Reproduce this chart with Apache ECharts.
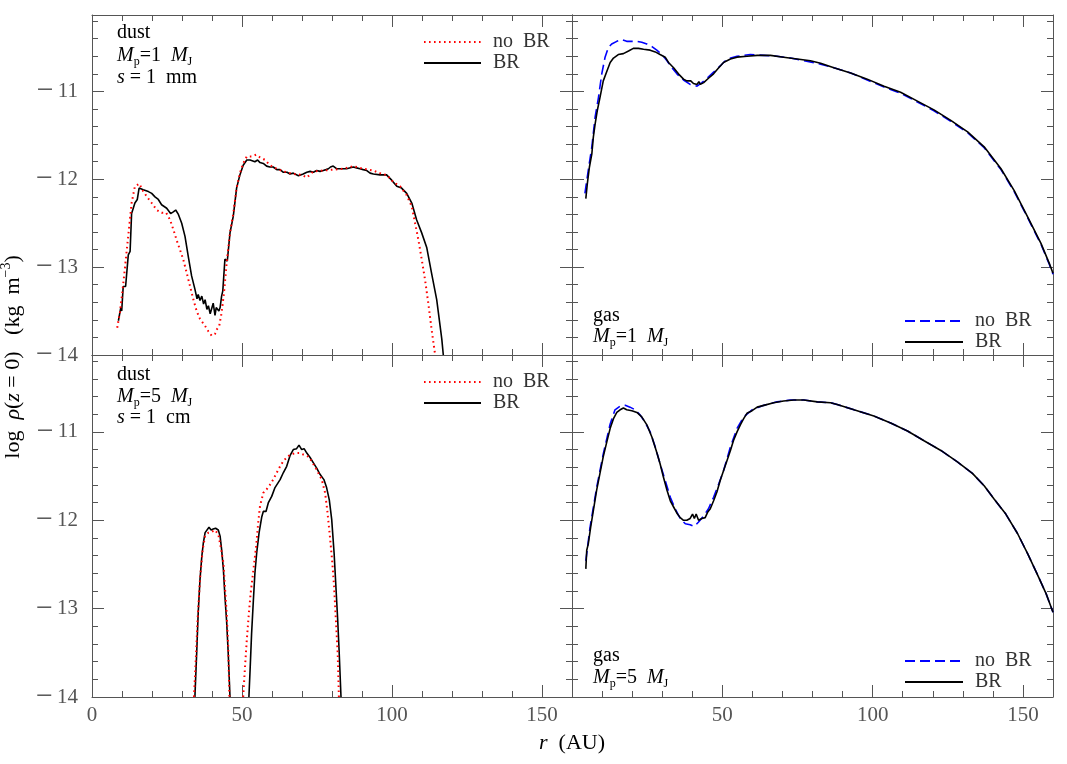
<!DOCTYPE html>
<html>
<head>
<meta charset="utf-8">
<script src="https://cdn.jsdelivr.net/npm/echarts/dist/echarts.min.js"></script>
<style>
  html, body { margin: 0; padding: 0; background: #fff; }
  #chart { width: 1067px; height: 764px; }
</style>
</head>
<body>
<div id="chart"></div>
<script>
// ── DATA (r in AU, log rho) ───────────────────────────────────────────────────
// dust, Mp = 1 MJ, s = 1 mm
const dust1NoBR = [
  [8.4,-13.69],[9.3,-13.52],[10.1,-13.29],[10.8,-13.07],[11.6,-12.80],[12.4,-12.54],[13.2,-12.27],
  [14.3,-12.08],[15.8,-12.05],[17.1,-12.14],[18.8,-12.22],[19.9,-12.27],[21.6,-12.35],[23.2,-12.38],
  [24.7,-12.38],[26.0,-12.46],[27.1,-12.57],[28.2,-12.69],[29.3,-12.80],[30.4,-12.91],[31.6,-13.07],
  [32.7,-13.22],[33.8,-13.37],[34.9,-13.50],[36.0,-13.59],[37.7,-13.67],[38.8,-13.73],[39.9,-13.78],
  [41.0,-13.76],[41.6,-13.71],[42.4,-13.67],[43.2,-13.52],[44.0,-13.29],[44.9,-12.95],[46.0,-12.61],
  [47.1,-12.39],[48.2,-12.10],[49.3,-11.93],[50.4,-11.82],[51.6,-11.74],[53.2,-11.74],[54.7,-11.72],
  [56.0,-11.75],[57.7,-11.78],[59.3,-11.84],[61.6,-11.88],[63.8,-11.91],[67.1,-11.94],[69.9,-11.95],
  [71.6,-11.98],[73.8,-11.91],[77.1,-11.90],[80.4,-11.89],[83.8,-11.88],[87.1,-11.85],[90.4,-11.88],
  [93.8,-11.90],[96.6,-11.94],[98.2,-11.95],[100.4,-12.03],[102.7,-12.08],[104.9,-12.18],[106.6,-12.31],
  [107.7,-12.50],[108.8,-12.69],[109.9,-12.91],[111.0,-13.14],[112.1,-13.41],[113.2,-13.71],[114.1,-13.93],
  [114.4,-14.0]
];
const dust1BR = [
  [8.8,-13.61],[9.6,-13.46],[9.9,-13.50],[10.4,-13.22],[11.2,-13.22],[12.1,-12.86],[12.7,-12.82],
  [13.2,-12.39],[13.8,-12.37],[14.3,-12.27],[15.1,-12.23],[15.7,-12.10],[17.1,-12.12],[18.8,-12.14],
  [19.9,-12.16],[21.0,-12.20],[22.1,-12.23],[23.2,-12.29],[24.9,-12.33],[26.2,-12.39],[27.1,-12.37],
  [27.9,-12.35],[28.8,-12.40],[29.9,-12.50],[31.0,-12.65],[32.1,-12.88],[33.2,-13.10],[34.3,-13.25],
  [35.0,-13.36],[35.4,-13.31],[36.0,-13.38],[36.6,-13.33],[37.2,-13.42],[37.7,-13.37],[38.3,-13.48],
  [38.8,-13.44],[39.4,-13.53],[39.9,-13.47],[40.4,-13.41],[41.0,-13.55],[41.4,-13.46],[41.8,-13.44],
  [42.3,-13.50],[42.7,-13.46],[43.2,-13.33],[43.6,-13.27],[44.3,-12.91],[45.1,-12.93],[46.0,-12.61],
  [47.1,-12.42],[48.2,-12.10],[49.3,-11.95],[50.4,-11.84],[51.6,-11.78],[52.7,-11.78],[53.2,-11.76],
  [54.3,-11.80],[55.2,-11.78],[56.0,-11.81],[57.1,-11.82],[58.2,-11.85],[59.3,-11.86],[60.4,-11.86],
  [61.6,-11.89],[62.7,-11.89],[63.8,-11.92],[65.0,-11.92],[66.0,-11.94],[67.1,-11.93],[68.8,-11.96],
  [70.4,-11.94],[71.6,-11.92],[72.7,-11.91],[73.8,-11.92],[74.9,-11.90],[76.0,-11.91],[77.1,-11.90],
  [78.0,-11.89],[78.8,-11.88],[79.5,-11.86],[80.4,-11.85],[81.5,-11.88],[82.7,-11.88],[84.9,-11.88],
  [87.1,-11.86],[88.2,-11.87],[89.3,-11.88],[90.4,-11.89],[91.6,-11.90],[92.7,-11.93],[93.8,-11.94],
  [96.0,-11.95],[98.2,-11.95],[99.9,-12.01],[101.6,-12.08],[103.2,-12.10],[104.9,-12.16],[106.6,-12.27],
  [108.2,-12.46],[109.9,-12.61],[111.6,-12.78],[113.2,-13.07],[114.9,-13.37],[116.6,-13.82],[117.1,-14.0]
];

// dust, Mp = 5 MJ, s = 1 cm (two rings, gap in between)
const dust5NoBR = [
  [34.0,-14.0],[34.7,-13.50],[35.2,-13.12],[36.0,-12.67],[36.9,-12.33],[37.7,-12.18],[38.8,-12.14],
  [39.9,-12.13],[41.0,-12.11],[42.1,-12.16],[42.9,-12.30],[43.8,-12.48],[44.3,-12.75],[44.9,-13.05],
  [45.4,-13.43],[45.8,-14.0],[48.0,null],
  [50.4,-14.0],[51.0,-13.66],[51.6,-13.35],[52.3,-13.05],[52.9,-12.82],[53.8,-12.56],[54.7,-12.30],
  [55.4,-12.03],[56.0,-11.84],[57.1,-11.69],[58.2,-11.65],[59.3,-11.60],[60.4,-11.54],[61.6,-11.46],
  [62.7,-11.39],[63.8,-11.33],[64.9,-11.29],[66.0,-11.26],[67.7,-11.24],[69.3,-11.24],[70.7,-11.26],
  [72.1,-11.28],[73.2,-11.33],[74.9,-11.43],[76.6,-11.54],[77.7,-11.69],[78.4,-11.88],[79.3,-12.18],
  [80.1,-12.48],[80.7,-12.75],[81.3,-13.13],[81.9,-13.50],[82.3,-14.0]
];
const dust5BR = [
  [34.3,-14.0],[34.9,-13.50],[35.4,-13.05],[36.0,-12.67],[36.6,-12.41],[37.1,-12.26],[37.7,-12.14],
  [38.2,-12.14],[39.0,-12.08],[39.7,-12.11],[40.4,-12.10],[41.2,-12.09],[42.1,-12.11],[42.7,-12.18],
  [43.2,-12.33],[43.8,-12.56],[44.3,-12.86],[44.9,-13.16],[45.4,-13.50],[46.0,-14.0],[48.0,null],
  [52.3,-14.0],[52.7,-13.69],[53.2,-13.28],[53.8,-12.90],[54.3,-12.60],[54.9,-12.37],[55.7,-12.14],
  [56.6,-11.96],[57.1,-11.90],[58.0,-11.90],[58.8,-11.80],[59.9,-11.73],[61.0,-11.63],[61.6,-11.61],
  [62.7,-11.54],[63.8,-11.46],[64.9,-11.39],[66.0,-11.27],[67.1,-11.20],[68.2,-11.19],[69.0,-11.15],
  [69.9,-11.20],[70.7,-11.19],[71.6,-11.24],[72.7,-11.29],[73.8,-11.35],[74.9,-11.41],[76.0,-11.48],
  [77.3,-11.54],[78.2,-11.63],[79.1,-11.77],[79.9,-11.99],[80.7,-12.37],[81.3,-12.75],[81.9,-13.13],
  [82.4,-13.50],[83.0,-14.0]
];

// gas, Mp = 1 MJ
const gas1NoBR = [
  [4.3,-12.16],[5.4,-11.90],[6.6,-11.63],[7.7,-11.29],[8.8,-11.07],[9.9,-10.80],[11.0,-10.61],
  [12.1,-10.50],[13.2,-10.46],[14.9,-10.43],[16.6,-10.41],[18.2,-10.43],[19.9,-10.43],[21.6,-10.43],
  [23.2,-10.44],[24.9,-10.46],[26.6,-10.49],[28.2,-10.53],[29.9,-10.58],[31.6,-10.65],[33.2,-10.73],
  [34.9,-10.80],[37.1,-10.87],[39.3,-10.92],[41.6,-10.94],[43.2,-10.90],[44.9,-10.85],[47.1,-10.78],
  [49.3,-10.71],[51.6,-10.63],[54.9,-10.60],[59.3,-10.58],[63.8,-10.59],[68.2,-10.60],[72.7,-10.62],
  [77.1,-10.65],[81.6,-10.68],[87.1,-10.73],[92.7,-10.79],[98.2,-10.87],[103.8,-10.95],[109.3,-11.02],
  [114.9,-11.12],[120.4,-11.22],[126.0,-11.34],[131.6,-11.47],[137.1,-11.64],[142.7,-11.89],
  [147.1,-12.14],[151.6,-12.44],[156.0,-12.74],[158.8,-12.97],[160.0,-13.08]
];
const gas1BR = [
  [4.6,-12.22],[5.1,-12.05],[5.8,-11.86],[6.6,-11.71],[7.1,-11.52],[7.7,-11.37],[8.4,-11.22],
  [9.3,-11.07],[10.4,-10.88],[11.6,-10.77],[12.7,-10.67],[13.8,-10.62],[15.4,-10.58],[17.1,-10.57],
  [18.8,-10.54],[20.4,-10.51],[22.1,-10.51],[23.8,-10.52],[26.0,-10.53],[27.7,-10.55],[29.3,-10.58],
  [31.0,-10.61],[32.1,-10.67],[33.8,-10.73],[35.4,-10.80],[37.1,-10.86],[38.2,-10.88],[38.8,-10.90],
  [39.5,-10.88],[40.4,-10.91],[41.0,-10.89],[41.6,-10.92],[42.2,-10.89],[42.7,-10.92],[43.8,-10.90],
  [45.4,-10.85],[47.1,-10.80],[48.8,-10.73],[50.4,-10.67],[52.7,-10.63],[54.9,-10.61],[58.2,-10.60],
  [61.6,-10.59],[66.0,-10.59],[70.4,-10.61],[74.9,-10.63],[79.3,-10.65],[82.7,-10.68],[87.1,-10.73],
  [92.7,-10.79],[98.2,-10.86],[103.8,-10.94],[109.3,-11.01],[114.9,-11.11],[120.4,-11.21],
  [126.0,-11.33],[131.6,-11.46],[137.1,-11.63],[142.7,-11.88],[147.1,-12.13],[151.6,-12.43],
  [156.0,-12.73],[158.8,-12.96],[160.0,-13.07]
];

// gas, Mp = 5 MJ
const gas5NoBR = [
  [4.6,-12.46],[6.0,-12.08],[8.2,-11.63],[10.4,-11.25],[12.7,-10.91],[14.3,-10.75],[16.0,-10.71],
  [17.7,-10.70],[19.3,-10.72],[21.0,-10.75],[22.7,-10.81],[24.3,-10.89],[26.0,-11.00],[27.7,-11.17],
  [29.3,-11.36],[31.0,-11.55],[32.7,-11.74],[34.3,-11.87],[36.0,-11.98],[37.7,-12.04],[39.3,-12.05],
  [40.7,-12.07],[42.1,-12.02],[43.8,-11.95],[45.4,-11.87],[47.1,-11.74],[48.8,-11.59],[50.4,-11.44],
  [52.7,-11.17],[54.9,-10.96],[57.1,-10.83],[59.9,-10.75],[63.8,-10.70],[68.2,-10.66],[72.7,-10.64],
  [77.1,-10.64],[81.6,-10.66],[86.0,-10.67],[88.2,-10.69],[93.8,-10.75],[100.4,-10.82],[106.0,-10.90],
  [111.6,-10.99],[117.1,-11.10],[122.7,-11.21],[128.2,-11.34],[133.2,-11.47],[137.1,-11.61],
  [140.4,-11.76],[144.3,-11.93],[148.2,-12.15],[151.6,-12.38],[154.9,-12.62],[157.7,-12.83],[160.0,-13.04]
];
const gas5BR = [
  [4.6,-12.55],[4.9,-12.34],[5.4,-12.27],[6.2,-12.08],[7.1,-11.89],[8.2,-11.66],[9.3,-11.47],
  [10.4,-11.28],[11.6,-11.11],[12.7,-10.96],[13.8,-10.85],[14.9,-10.78],[16.0,-10.75],[17.1,-10.73],
  [18.2,-10.75],[19.9,-10.76],[21.6,-10.78],[23.2,-10.83],[24.9,-10.92],[26.6,-11.06],[28.0,-11.21],
  [29.3,-11.36],[30.4,-11.51],[31.6,-11.66],[32.7,-11.78],[33.8,-11.85],[34.9,-11.92],[36.0,-11.97],
  [37.1,-12.00],[38.2,-12.00],[39.3,-11.98],[40.1,-11.93],[40.7,-11.98],[41.3,-11.93],[42.1,-12.00],
  [43.2,-11.98],[44.3,-11.97],[45.1,-11.91],[46.0,-11.87],[47.1,-11.78],[48.2,-11.68],[49.3,-11.55],
  [50.4,-11.44],[51.6,-11.32],[52.7,-11.21],[53.8,-11.09],[54.9,-11.00],[56.0,-10.92],[57.1,-10.85],
  [58.2,-10.79],[59.9,-10.76],[61.6,-10.72],[63.8,-10.70],[67.1,-10.67],[70.4,-10.65],[73.8,-10.64],
  [77.1,-10.64],[81.6,-10.66],[86.0,-10.67],[88.2,-10.69],[93.8,-10.75],[100.4,-10.82],[106.0,-10.90],
  [111.6,-10.99],[117.1,-11.10],[122.7,-11.21],[128.2,-11.34],[133.2,-11.47],[137.1,-11.61],
  [140.4,-11.76],[144.3,-11.93],[148.2,-12.15],[151.6,-12.38],[154.9,-12.62],[157.7,-12.83],[160.0,-13.04]
];

const R_MIN = 0, R_MAX = 160;
const LOG_MIN = -14, LOG_MAX = -10.13;

// ── LAYOUT / STYLE ────────────────────────────────────────────────────────────
const SERIF = '"Liberation Serif", "DejaVu Serif", serif';
const AXIS_COL = '#555';
const TXT_COL = '#333';

// 0 = dust 1MJ, 1 = gas 1MJ, 2 = dust 5MJ, 3 = gas 5MJ
const grids = [
  { left: 92,  top: 15,  width: 480, height: 340 },
  { left: 572, top: 15,  width: 481, height: 340 },
  { left: 92,  top: 355, width: 480, height: 342 },
  { left: 572, top: 355, width: 481, height: 342 },
];

// long TeX-like minus drawn with a larger glyph
const tickRich = {
  m: { fontFamily: SERIF, fontSize: 30, color: AXIS_COL, lineHeight: 26, verticalAlign: 'middle' },
  n: { fontFamily: SERIF, fontSize: 21, color: AXIS_COL, lineHeight: 26, verticalAlign: 'middle' },
};
const minus = v => (v < 0 ? '{m|\u2212}{n|\u2009' + Math.abs(v) + '}' : '{n|' + v + '}');

const baseAxis = {
  type: 'value',
  axisLine: { show: true, onZero: false, lineStyle: { color: AXIS_COL, width: 1 } },
  axisTick: { show: true, inside: true, length: 12, lineStyle: { color: AXIS_COL, width: 1 } },
  minorTick: { show: true, splitNumber: 5, length: 6, lineStyle: { color: AXIS_COL, width: 1 } },
  splitLine: { show: false },
};

const xAxes = [], yAxes = [];
grids.forEach(function (g, gi) {
  const bottomRow = gi >= 2, leftCol = gi % 2 === 0;
  ['bottom', 'top'].forEach(function (pos) {
    xAxes.push(Object.assign({}, baseAxis, {
      gridIndex: gi, position: pos, min: R_MIN, max: R_MAX, interval: 50,
      axisLabel: {
        show: pos === 'bottom' && bottomRow, margin: 8,
        fontFamily: SERIF, fontSize: 21, color: AXIS_COL,
        formatter: v => (v % 50 !== 0 || (!leftCol && v === 0)) ? '' : String(v)
      }
    }));
  });
  ['left', 'right'].forEach(function (pos) {
    yAxes.push(Object.assign({}, baseAxis, {
      gridIndex: gi, position: pos, min: LOG_MIN, max: LOG_MAX, interval: 1,
      axisLabel: {
        show: pos === 'left' && leftCol, margin: 14,
        fontFamily: SERIF, fontSize: 21, color: AXIS_COL, rich: tickRich,
        formatter: v => Number.isInteger(v) ? minus(v) : ''
      }
    }));
  });
});

const dotted = { color: '#ff0000', width: 2, type: [1.6, 3.4], cap: 'butt' };
const dashed = { color: '#0000ff', width: 1.6, type: [10, 5] };
const solid  = { color: '#000000', width: 1.6, type: 'solid' };

function line(name, gi, data, style, z) {
  return {
    name, type: 'line', xAxisIndex: gi * 2, yAxisIndex: gi * 2, data,
    showSymbol: false, symbol: 'none', connectNulls: false, clip: true,
    lineStyle: style, itemStyle: { color: style.color }, z, animation: false
  };
}

const series = [
  line('d1:BR', 0, dust1BR, solid, 2),
  line('d1:no BR', 0, dust1NoBR, dotted, 3),
  line('g1:no BR', 1, gas1NoBR, dashed, 2),
  line('g1:BR', 1, gas1BR, solid, 3),
  line('d5:BR', 2, dust5BR, solid, 2),
  line('d5:no BR', 2, dust5NoBR, dotted, 3),
  line('g5:no BR', 3, gas5NoBR, dashed, 2),
  line('g5:BR', 3, gas5BR, solid, 3),
];

// legend: line sample only, no symbol
function legendAt(prefix, left, top, itemWidth, pad) {
  return {
    orient: 'vertical', left, top, itemWidth, itemHeight: 20, itemGap: 1,
    selectedMode: false,
    itemStyle: { opacity: 0, borderWidth: 0 },
    data: [prefix + ':no BR', prefix + ':BR'],
    formatter: n => n.split(':')[1].replace(' ', '  '),
    textStyle: { fontFamily: SERIF, fontSize: 20, color: TXT_COL, padding: [0, 0, 0, pad] }
  };
}

const rich = {
  rm:  { fontFamily: SERIF, fontSize: 20, color: TXT_COL, lineHeight: 24, verticalAlign: 'middle' },
  it:  { fontFamily: SERIF, fontSize: 20, color: TXT_COL, lineHeight: 24, verticalAlign: 'middle', fontStyle: 'italic' },
  sub: { fontFamily: SERIF, fontSize: 12, color: TXT_COL, lineHeight: 24, verticalAlign: 'bottom' },
};

function label(x, y, text) {
  return { type: 'text', x, y, style: { text, rich, align: 'left', verticalAlign: 'middle' } };
}

const bigRich = {
  rm:  { fontFamily: SERIF, fontSize: 22, color: AXIS_COL, lineHeight: 28, verticalAlign: 'middle' },
  it:  { fontFamily: SERIF, fontSize: 22, color: AXIS_COL, lineHeight: 28, verticalAlign: 'middle', fontStyle: 'italic' },
  sup: { fontFamily: SERIF, fontSize: 14, color: AXIS_COL, lineHeight: 28, verticalAlign: 'top' },
};

const graphic = [
  label(117, 33, '{rm|dust}'),
  label(117, 56, '{it|M}{sub|p}{rm|=1  }{it|M}{sub|J}'),
  label(117, 78, '{it|s}{rm| = 1  mm}'),
  label(117, 375, '{rm|dust}'),
  label(117, 397, '{it|M}{sub|p}{rm|=5  }{it|M}{sub|J}'),
  label(117, 418, '{it|s}{rm| = 1  cm}'),
  label(593, 316, '{rm|gas}'),
  label(593, 337, '{it|M}{sub|p}{rm|=1  }{it|M}{sub|J}'),
  label(593, 656, '{rm|gas}'),
  label(593, 678, '{it|M}{sub|p}{rm|=5  }{it|M}{sub|J}'),
  {
    type: 'text', x: 572, y: 743,
    style: { text: '{it|r}{rm|  (AU)}', rich: bigRich, align: 'center', verticalAlign: 'middle' }
  },
  {
    type: 'text', x: 13, y: 357, rotation: Math.PI / 2,
    style: { text: '{rm|log  }{it|ρ}{rm|(}{it|z}{rm| = 0)   (kg  m}{sup|\u22123}{rm|)}', rich: bigRich,
             align: 'center', verticalAlign: 'middle' }
  },
];

const chart = echarts.init(document.getElementById('chart'), null, { renderer: 'canvas' });
chart.setOption({
  backgroundColor: '#fff',
  animation: false,
  grid: grids,
  xAxis: xAxes,
  yAxis: yAxes,
  legend: [
    legendAt('d1', 418, 27, 57, 7),
    legendAt('g1', 899, 306, 58, 7),
    legendAt('d5', 418, 367, 57, 7),
    legendAt('g5', 899, 646, 58, 7),
  ],
  series,
  graphic
});
</script>
</body>
</html>
